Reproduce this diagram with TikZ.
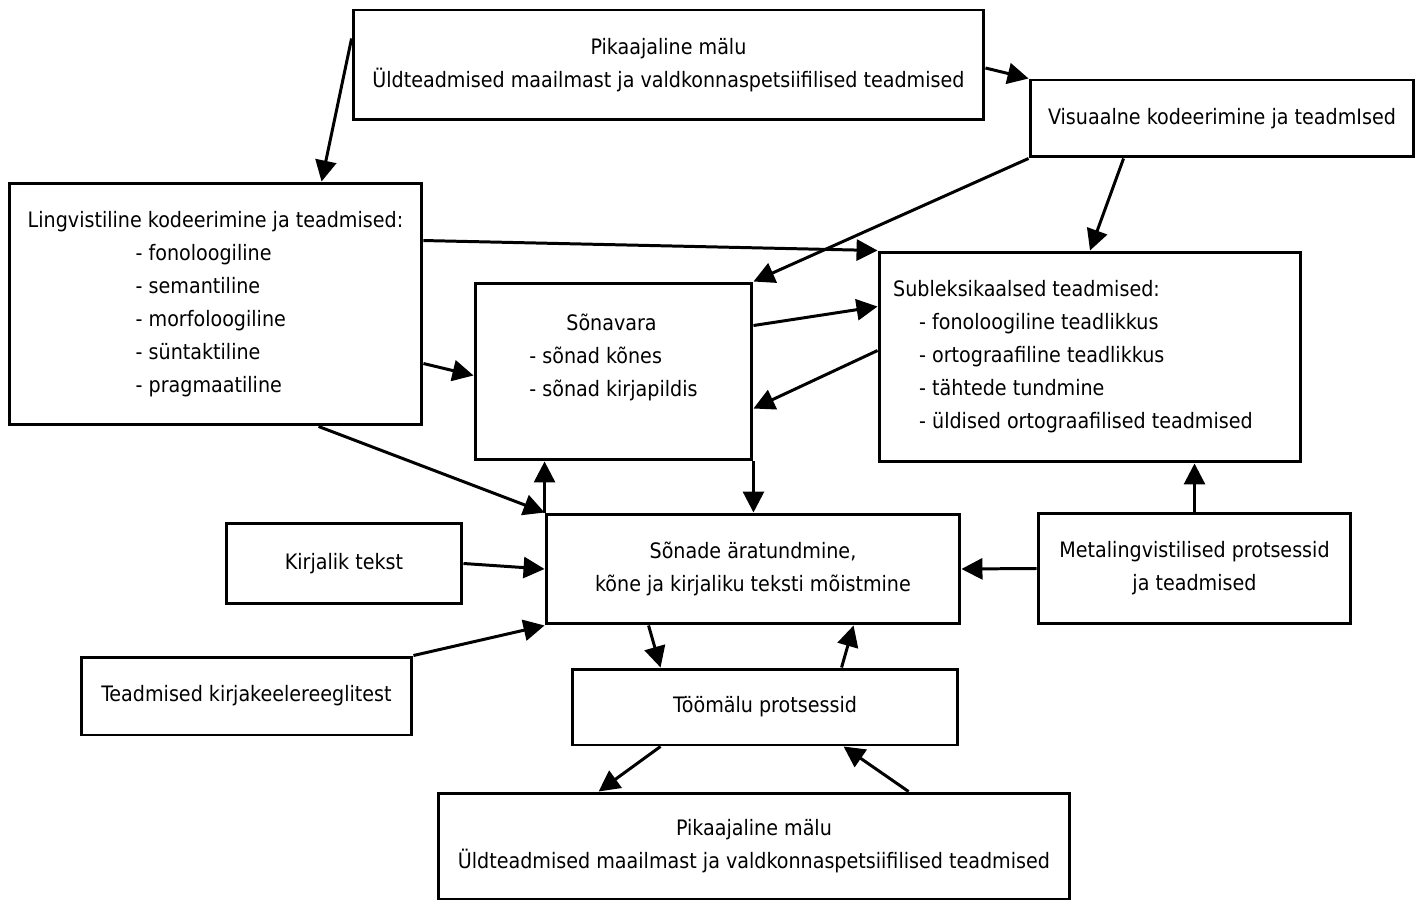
\documentclass[tikz,border=0pt]{standalone}
\usepackage{fontspec}
\setmainfont{DejaVu Sans Condensed}
\usepackage{tikz}
\usetikzlibrary{positioning}
\usetikzlibrary{calc}
\usetikzlibrary{arrows.meta}
\tikzset{every picture/.style={line width=1.7pt},
box/.style={draw,rectangle,inner sep=0pt,font=\fontsize{12.1}{18.8}\selectfont},
arr/.style={-{Triangle[length=0.42cm,width=0.42cm]}}}

\begin{document}
\begin{tikzpicture}[x=0.02cm, y=-0.02cm]
\useasboundingbox (0,0) rectangle (1419,901);

\node (pm1) at (668.5,65) [box,align=center,minimum width=12.62cm,minimum height=2.2cm] {Pikaajaline mälu\\Üldteadmised maailmast ja valdkonnaspetsiifilised teadmised};
\node (vis) at (1222,118.5) [box,minimum width=7.68cm,minimum height=1.54cm] {Visuaalne kodeerimine ja teadmIsed};
\node (ling) at (215.5,304) [box,align=left,minimum width=8.26cm,minimum height=4.84cm] {Lingvistiline kodeerimine ja teadmised:\\
\hspace*{2.16cm}- fonoloogiline\\ \hspace*{2.16cm}- semantiline\\ \hspace*{2.16cm}- morfoloogiline\\ \hspace*{2.16cm}- süntaktiline\\ \hspace*{2.16cm}- pragmaatiline};
\node (sona) at (613.5,371.5) [box,align=left,minimum width=5.54cm,minimum height=3.54cm] {\hspace*{0.74cm}Sõnavara\\- sõnad kõnes\\- sõnad kirjapildis\\ \mbox{}};
\node (subl) at (1090,357) [box,align=left,minimum width=8.44cm,minimum height=4.2cm] {Subleksikaalsed teadmised:\\
\hspace*{0.52cm}- fonoloogiline teadlikkus\\ \hspace*{0.52cm}- ortograafiline teadlikkus\\ \hspace*{0.52cm}- tähtede tundmine\\ \hspace*{0.52cm}- üldised ortograafilised teadmised\hspace*{0.68cm}};
\node (sonad) at (753,569) [box,align=center,minimum width=8.28cm,minimum height=2.2cm] {Sõnade äratundmine,\\kõne ja kirjaliku teksti mõistmine};
\node (kiri) at (344,563.5) [box,minimum width=4.72cm,minimum height=1.62cm] {Kirjalik tekst};
\node (meta) at (1194.5,568.5) [box,align=center,minimum width=6.26cm,minimum height=2.22cm] {Metalingvistilised protsessid\\ja teadmised};
\node (reegl) at (246.5,696) [box,minimum width=6.62cm,minimum height=1.56cm] {Teadmised kirjakeelereeglitest};
\node (too) at (765,707) [box,minimum width=7.72cm,minimum height=1.52cm] {Töömälu protsessid};
\node (pm2) at (754,846) [box,align=center,minimum width=12.64cm,minimum height=2.12cm] {Pikaajaline mälu\\Üldteadmised maailmast ja valdkonnaspetsiifilised teadmised};

% pikaajaline mälu ylal
\draw [arr] ($(pm1.north west)+(0,30)$) -- ($(ling.north west)+(314,0)$);
\draw [arr] ($(pm1.east)+(0,3)$) -- (vis.north west);
% visuaalne
\draw [arr] (vis.south west) -- (sona.north east);
\draw [arr] ($(vis.south west)+(95,0)$) -- (subl.north);
% lingvistiline
\draw [arr] ($(ling.north east)+(0,59)$) -- (subl.north west);
\draw [arr] ($(ling.north east)+(0,182)$) -- ($(sona.north west)+(0,94)$);
\draw [arr] ($(ling.south west)+(311,0)$) -- (sonad.north west);
% sonavara <-> subleksikaalsed
\draw [arr] ($(sona.north east)+(0,44)$) -- ($(subl.north west)+(0,56)$);
\draw [arr] ($(subl.north west)+(0,100)$) -- ($(sona.north east)+(0,127)$);
\draw [arr] (sona.south east) -- (sona.south east |- sonad.north);
\draw [arr] (sonad.north west) -- (sonad.north west |- sona.south);
% sisendid
\draw [arr] (kiri.east) -- (sonad.west);
\draw [arr] (reegl.north east) -- (sonad.south west);
\draw [arr] (meta.west) -- (sonad.east);
\draw [arr] (meta.north) -- (meta.north |- subl.south);
% toomalu
\draw [arr] ($(sonad.south west)+(104,0)$) -- ($(too.north west)+(90,0)$);
\draw [arr] ($(too.north west)+(271,0)$) -- ($(sonad.south west)+(309,0)$);
\draw [arr] ($(too.south west)+(90,0)$) -- ($(pm2.north west)+(162,0)$);
\draw [arr] ($(pm2.north west)+(472,0)$) -- ($(too.south west)+(273,0)$);

\end{tikzpicture}
\end{document}
